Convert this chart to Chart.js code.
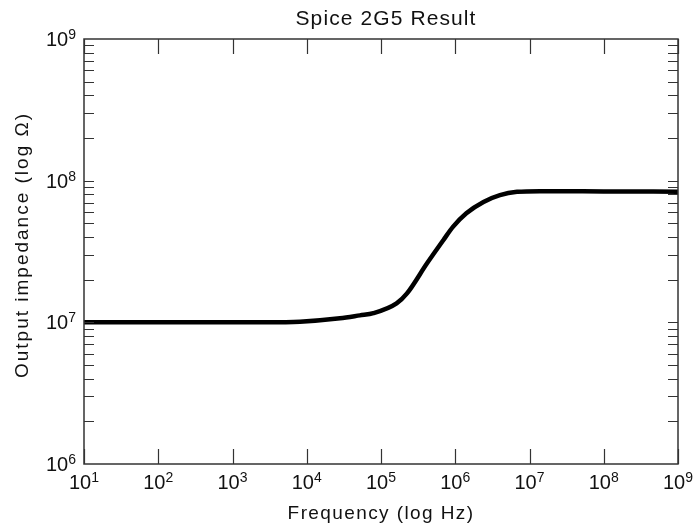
<!DOCTYPE html>
<html lang="en">
<head>
  <meta charset="UTF-8" />
  <title>Spice 2G5 Result</title>
  <script src="https://cdn.jsdelivr.net/npm/chart.js"></script>
  <style>
    html, body { margin: 0; padding: 0; background: #fff; }
    #wrap { width: 695px; height: 526px; }
  </style>
</head>
<body>
  <div id="wrap"><canvas id="chart"></canvas></div>

  <script>
    // data
    const freqHz = [10, 100, 1000, 2900, 8100, 2.8e4, 5.2e4, 7.9e4, 1.62e5, 2.24e5, 4.17e5,
                    6.9e5, 9.3e5, 1.41e6, 2.4e6, 4.0e6, 6.8e6, 1.38e7, 1e8, 1e9];
    const impedanceOhm = [1.0e7, 1.0e7, 1.0e7, 1.0e7, 1.01e7, 1.067e7, 1.12e7, 1.16e7, 1.36e7, 1.6e7, 2.61e7,
                          3.8e7, 4.72e7, 5.89e7, 7.08e7, 7.91e7, 8.34e7, 8.43e7, 8.4e7, 8.36e7];

    const xTickExps = [1, 2, 3, 4, 5, 6, 7, 8, 9];
    const yTickExps = [6, 7, 8, 9];

    const titleText = 'Spice 2G5 Result';
    const xTitle = 'Frequency (log Hz)';
    const yTitle = 'Output impedance (log Ω)';

    const FONT = "'Liberation Sans', Arial, Helvetica, sans-serif";

    function drawPow(ctx, exp, x, y, align) {
      ctx.font = '20px ' + FONT;
      const wb = ctx.measureText('10').width;
      ctx.font = '14px ' + FONT;
      const we = ctx.measureText(String(exp)).width;
      const total = wb + we;
      let sx = align === 'right' ? x - total : x - total / 2;
      ctx.textAlign = 'left';
      ctx.textBaseline = 'alphabetic';
      ctx.font = '20px ' + FONT;
      ctx.fillText('10', sx, y);
      ctx.font = '14px ' + FONT;
      ctx.fillText(String(exp), sx + wb, y - 7);
    }

    const frameAndText = {
      id: 'frameAndText',
      afterDatasetsDraw(chart) {
        const { ctx, chartArea: a, scales: { x, y } } = chart;
        ctx.save();
        ctx.strokeStyle = '#333';
        ctx.lineWidth = 1.5;
        ctx.strokeRect(a.left, a.top, a.right - a.left, a.bottom - a.top);

        // x major ticks, inside, top and bottom
        ctx.beginPath();
        xTickExps.forEach(e => {
          const px = Math.round(x.getPixelForValue(Math.pow(10, e))) + 0.5;
          ctx.moveTo(px, a.bottom); ctx.lineTo(px, a.bottom - 15);
          ctx.moveTo(px, a.top); ctx.lineTo(px, a.top + 15);
        });
        // y ticks at every 1..9 x decade, inside, left and right
        for (let e = 6; e < 9; e++) {
          for (let m = 1; m <= 9; m++) {
            if (e === 6 && m === 1) continue;
            const py = Math.round(y.getPixelForValue(m * Math.pow(10, e))) + 0.5;
            ctx.moveTo(a.left, py); ctx.lineTo(a.left + 10, py);
            ctx.moveTo(a.right, py); ctx.lineTo(a.right - 10, py);
          }
        }
        ctx.lineWidth = 1.2;
        ctx.stroke();

        ctx.fillStyle = '#111';
        xTickExps.forEach(e => drawPow(ctx, e, x.getPixelForValue(Math.pow(10, e)), a.bottom + 25, 'center'));
        yTickExps.forEach(e => drawPow(ctx, e, a.left - 8, y.getPixelForValue(Math.pow(10, e)) + 7, 'right'));

        ctx.textAlign = 'center';
        ctx.textBaseline = 'alphabetic';
        ctx.font = '21px ' + FONT;
        ctx.letterSpacing = '1.1px';
        ctx.fillText(titleText, 386, 25);

        ctx.font = '19px ' + FONT;
        ctx.letterSpacing = '1.4px';
        ctx.fillText(xTitle, 381, 519);

        ctx.letterSpacing = '2px';
        ctx.translate(28, 245);
        ctx.rotate(-Math.PI / 2);
        ctx.fillText(yTitle, 0, 0);
        ctx.restore();
      }
    };

    const points = freqHz.map((f, i) => ({ x: f, y: impedanceOhm[i] }));

    new Chart(document.getElementById('chart'), {
      type: 'line',
      data: {
        datasets: [{
          data: points,
          borderColor: '#000',
          borderWidth: 4.5,
          pointRadius: 0,
          fill: false,
          cubicInterpolationMode: 'monotone'
        }]
      },
      options: {
        responsive: true,
        maintainAspectRatio: false,
        animation: false,
        layout: { padding: { left: 84, right: 17, top: 39, bottom: 62 } },
        plugins: { legend: { display: false }, tooltip: { enabled: false }, title: { display: false } },
        scales: {
          x: { type: 'logarithmic', min: 10, max: 1e9, display: false },
          y: { type: 'logarithmic', min: 1e6, max: 1e9, display: false }
        }
      },
      plugins: [frameAndText]
    });
  </script>
</body>
</html>
